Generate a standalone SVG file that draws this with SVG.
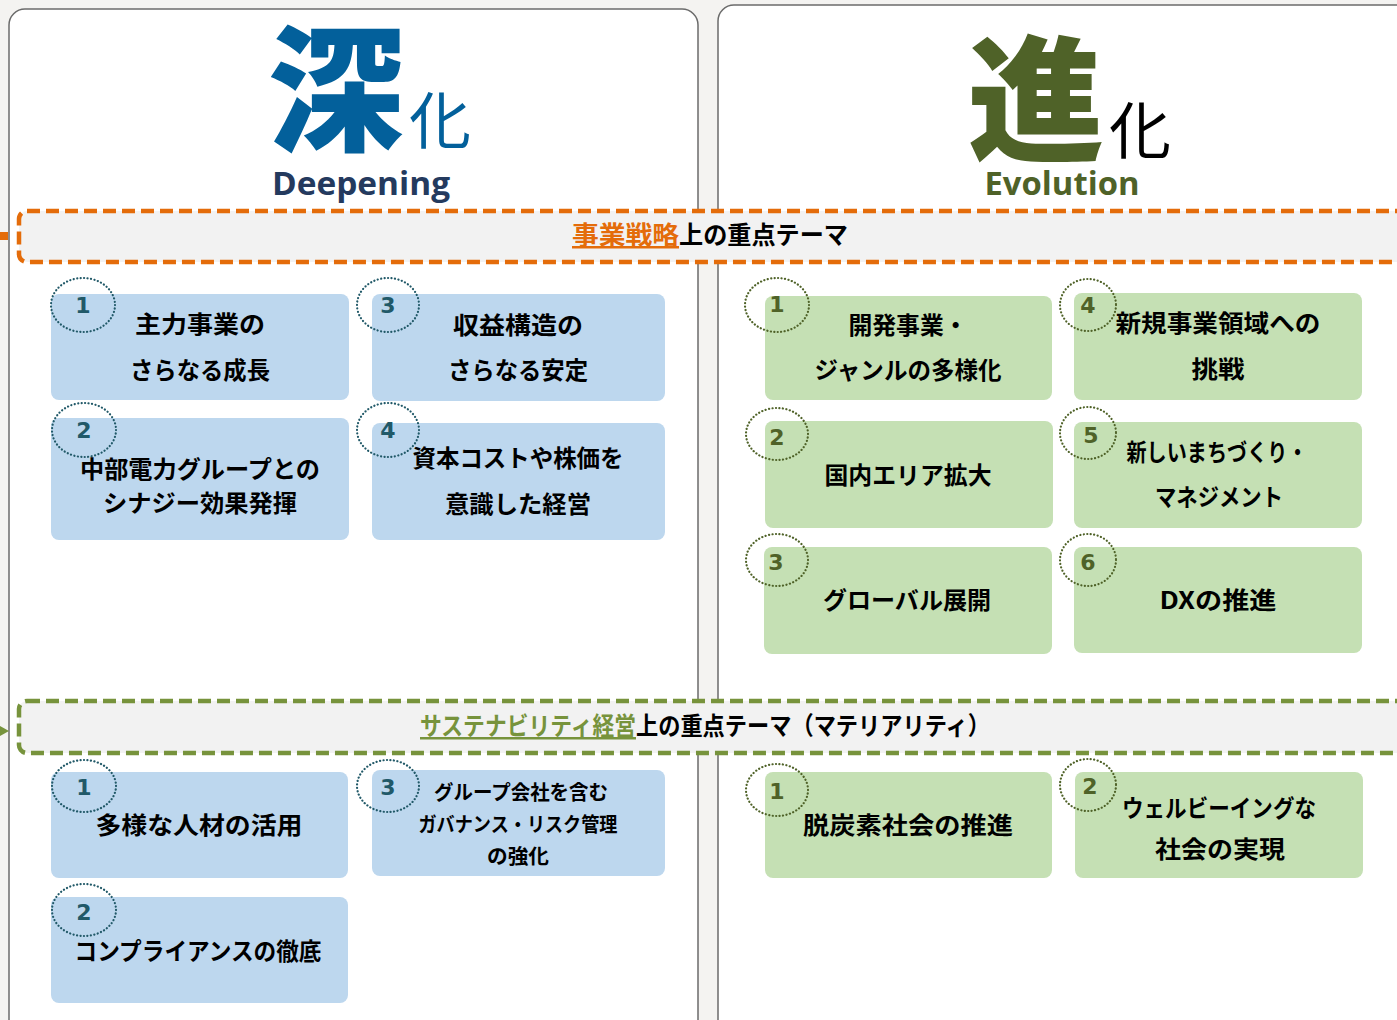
<svg xmlns="http://www.w3.org/2000/svg" width="1397" height="1020" viewBox="0 0 1397 1020">
<style>
.panel{fill:#ffffff;stroke:#6b6b6b;stroke-width:1.5}
.band{fill:#f2f2f2;stroke-width:4.5;stroke-dasharray:13 6}
.bbox{fill:#bdd7ee}
.gbox{fill:#c5e0b4}
.bc{fill:none;stroke:#215968;stroke-width:2.2;stroke-dasharray:0.1 3.4;stroke-linecap:round}
.gc{fill:none;stroke:#4f6228;stroke-width:2.2;stroke-dasharray:0.1 3.4;stroke-linecap:round}
.bn{font-family:"DejaVu Sans","Liberation Sans",sans-serif;font-weight:700;font-size:22px;fill:#215968;text-anchor:middle}
.gn{font-family:"DejaVu Sans","Liberation Sans",sans-serif;font-weight:700;font-size:22px;fill:#4f6228;text-anchor:middle}
.t{font-family:"Noto Sans CJK JP","Noto Sans",sans-serif;font-weight:700;font-size:24px;fill:#000;text-anchor:middle}
.ts{font-family:"Noto Sans CJK JP","Noto Sans",sans-serif;font-weight:700;font-size:20px;fill:#000;text-anchor:middle}
.bt{font-family:"Noto Sans CJK JP","Noto Sans",sans-serif;font-weight:700;font-size:25px}
</style>
<rect x="0" y="0" width="1397" height="1020" fill="#f4f3f1"/>
<g id="panel-left"><rect class="panel" x="9" y="9" width="689" height="1030" rx="16"/></g>
<g id="panel-right"><rect class="panel" x="718" y="5" width="700" height="1034" rx="16"/></g>
<g id="title-left">
<text x="336" y="141" font-family="Noto Sans CJK JP,sans-serif" font-weight="900" font-size="137" fill="#03609b" text-anchor="middle">深</text>
<text x="440" y="144" font-family="Noto Sans CJK JP,sans-serif" font-weight="400" font-size="62" fill="#03609b" text-anchor="middle">化</text>
<text x="361" y="195" font-family="Open Sans,Noto Sans,sans-serif" font-weight="700" font-size="32" fill="#243a5e" text-anchor="middle" textLength="178" lengthAdjust="spacingAndGlyphs">Deepening</text>
</g>
<g id="title-right">
<text x="1036" y="151" font-family="Noto Sans CJK JP,sans-serif" font-weight="900" font-size="137" fill="#4f6228" text-anchor="middle">進</text>
<text x="1140" y="154" font-family="Noto Sans CJK JP,sans-serif" font-weight="400" font-size="62" fill="#000" text-anchor="middle">化</text>
<text x="1062" y="195" font-family="Open Sans,Noto Sans,sans-serif" font-weight="700" font-size="32" fill="#4f6228" text-anchor="middle" textLength="155" lengthAdjust="spacingAndGlyphs">Evolution</text>
</g>
<g id="connectors">
<rect x="0" y="232" width="8" height="8" fill="#e46c0a"/>
<polygon points="0,726 9,731 0,736" fill="#77933c"/>
</g>
<g id="band-strategy">
<rect class="band" x="19" y="211" width="1400" height="51" rx="8" stroke="#e46c0a"/>
<text class="bt" x="572" y="244" fill="#e46c0a" text-decoration="underline" textLength="107" lengthAdjust="spacingAndGlyphs">事業戦略</text>
<text class="bt" x="679" y="244" fill="#000" textLength="169" lengthAdjust="spacingAndGlyphs">上の重点テーマ</text>
</g>
<g id="band-sustainability">
<rect class="band" x="19" y="701" width="1400" height="52" rx="8" stroke="#77933c"/>
<text class="bt" x="420" y="735" fill="#77933c" text-decoration="underline" textLength="216" lengthAdjust="spacingAndGlyphs">サステナビリティ経営</text>
<text class="bt" x="636" y="735" fill="#000" textLength="354" lengthAdjust="spacingAndGlyphs">上の重点テーマ（マテリアリティ）</text>
</g>
<g id="d1"><rect class="bbox" x="51" y="294" width="298" height="106" rx="8"/><ellipse class="bc" cx="83" cy="305" rx="32" ry="27"/><text class="bn" x="83" y="313">1</text>
<text class="t" x="200" y="333" textLength="130" lengthAdjust="spacingAndGlyphs">主力事業の</text><text class="t" x="200" y="379" textLength="140" lengthAdjust="spacingAndGlyphs">さらなる成長</text></g>
<g id="d3"><rect class="bbox" x="372" y="294" width="293" height="107" rx="8"/><ellipse class="bc" cx="388" cy="305" rx="31" ry="27"/><text class="bn" x="388" y="313">3</text>
<text class="t" x="518" y="334" textLength="130" lengthAdjust="spacingAndGlyphs">収益構造の</text><text class="t" x="518" y="379" textLength="140" lengthAdjust="spacingAndGlyphs">さらなる安定</text></g>
<g id="d2"><rect class="bbox" x="51" y="418" width="298" height="122" rx="8"/><ellipse class="bc" cx="84" cy="430" rx="32" ry="27"/><text class="bn" x="84" y="438">2</text>
<text class="t" x="200" y="478" textLength="240" lengthAdjust="spacingAndGlyphs">中部電力グループとの</text><text class="t" x="200" y="512" textLength="194" lengthAdjust="spacingAndGlyphs">シナジー効果発揮</text></g>
<g id="d4"><rect class="bbox" x="372" y="423" width="293" height="117" rx="8"/><ellipse class="bc" cx="388" cy="430" rx="31" ry="27"/><text class="bn" x="388" y="438">4</text>
<text class="t" x="518" y="467" textLength="211" lengthAdjust="spacingAndGlyphs">資本コストや株価を</text><text class="t" x="518" y="513" textLength="146" lengthAdjust="spacingAndGlyphs">意識した経営</text></g>
<g id="e1"><rect class="gbox" x="765" y="296" width="287" height="104" rx="8"/><ellipse class="gc" cx="777" cy="305" rx="32" ry="27"/><text class="gn" x="777" y="312">1</text>
<text class="t" x="908" y="334" textLength="119" lengthAdjust="spacingAndGlyphs">開発事業・</text><text class="t" x="908" y="379" textLength="187" lengthAdjust="spacingAndGlyphs">ジャンルの多様化</text></g>
<g id="e4"><rect class="gbox" x="1074" y="293" width="288" height="107" rx="8"/><ellipse class="gc" cx="1088" cy="305" rx="28" ry="26"/><text class="gn" x="1088" y="313">4</text>
<text class="t" x="1218" y="332" textLength="205" lengthAdjust="spacingAndGlyphs">新規事業領域への</text><text class="t" x="1218" y="378" textLength="53" lengthAdjust="spacingAndGlyphs">挑戦</text></g>
<g id="e2"><rect class="gbox" x="765" y="421" width="288" height="107" rx="8"/><ellipse class="gc" cx="777" cy="434" rx="31" ry="26"/><text class="gn" x="777" y="445">2</text>
<text class="t" x="908" y="484" textLength="167" lengthAdjust="spacingAndGlyphs">国内エリア拡大</text></g>
<g id="e5"><rect class="gbox" x="1074" y="422" width="288" height="106" rx="8"/><ellipse class="gc" cx="1088" cy="433" rx="28" ry="26"/><text class="gn" x="1091" y="443">5</text>
<text class="t" x="1217" y="461" textLength="181" lengthAdjust="spacingAndGlyphs">新しいまちづくり・</text><text class="t" x="1219" y="506" textLength="128" lengthAdjust="spacingAndGlyphs">マネジメント</text></g>
<g id="e3"><rect class="gbox" x="764" y="547" width="288" height="107" rx="8"/><ellipse class="gc" cx="777" cy="560" rx="31" ry="26"/><text class="gn" x="776" y="570">3</text>
<text class="t" x="907" y="609" textLength="168" lengthAdjust="spacingAndGlyphs">グローバル展開</text></g>
<g id="e6"><rect class="gbox" x="1074" y="547" width="288" height="106" rx="8"/><ellipse class="gc" cx="1088" cy="560" rx="28" ry="26"/><text class="gn" x="1088" y="570">6</text>
<text class="t" x="1218" y="609" textLength="117" lengthAdjust="spacingAndGlyphs">DXの推進</text></g>
<g id="m1"><rect class="bbox" x="51" y="772" width="297" height="106" rx="8"/><ellipse class="bc" cx="84" cy="786" rx="32" ry="26"/><text class="bn" x="84" y="795">1</text>
<text class="t" x="199" y="834" textLength="207" lengthAdjust="spacingAndGlyphs">多様な人材の活用</text></g>
<g id="m3"><rect class="bbox" x="372" y="770" width="293" height="106" rx="8"/><ellipse class="bc" cx="388" cy="786" rx="31" ry="26"/><text class="bn" x="388" y="795">3</text>
<text class="ts" x="521" y="800" textLength="174" lengthAdjust="spacingAndGlyphs">グループ会社を含む</text><text class="ts" x="518" y="832" textLength="199" lengthAdjust="spacingAndGlyphs">ガバナンス・リスク管理</text><text class="ts" x="518" y="864" textLength="62" lengthAdjust="spacingAndGlyphs">の強化</text></g>
<g id="m2"><rect class="bbox" x="51" y="897" width="297" height="106" rx="8"/><ellipse class="bc" cx="84" cy="910" rx="32" ry="26"/><text class="bn" x="84" y="920">2</text>
<text class="t" x="198" y="960" textLength="247" lengthAdjust="spacingAndGlyphs">コンプライアンスの徹底</text></g>
<g id="s1"><rect class="gbox" x="765" y="772" width="287" height="106" rx="8"/><ellipse class="gc" cx="777" cy="790" rx="31" ry="26"/><text class="gn" x="777" y="799">1</text>
<text class="t" x="908" y="834" textLength="210" lengthAdjust="spacingAndGlyphs">脱炭素社会の推進</text></g>
<g id="s2"><rect class="gbox" x="1075" y="772" width="288" height="106" rx="8"/><ellipse class="gc" cx="1088" cy="785" rx="28" ry="26"/><text class="gn" x="1090" y="794">2</text>
<text class="t" x="1219" y="817" textLength="194" lengthAdjust="spacingAndGlyphs">ウェルビーイングな</text><text class="t" x="1220" y="858" textLength="130" lengthAdjust="spacingAndGlyphs">社会の実現</text></g>
</svg>
